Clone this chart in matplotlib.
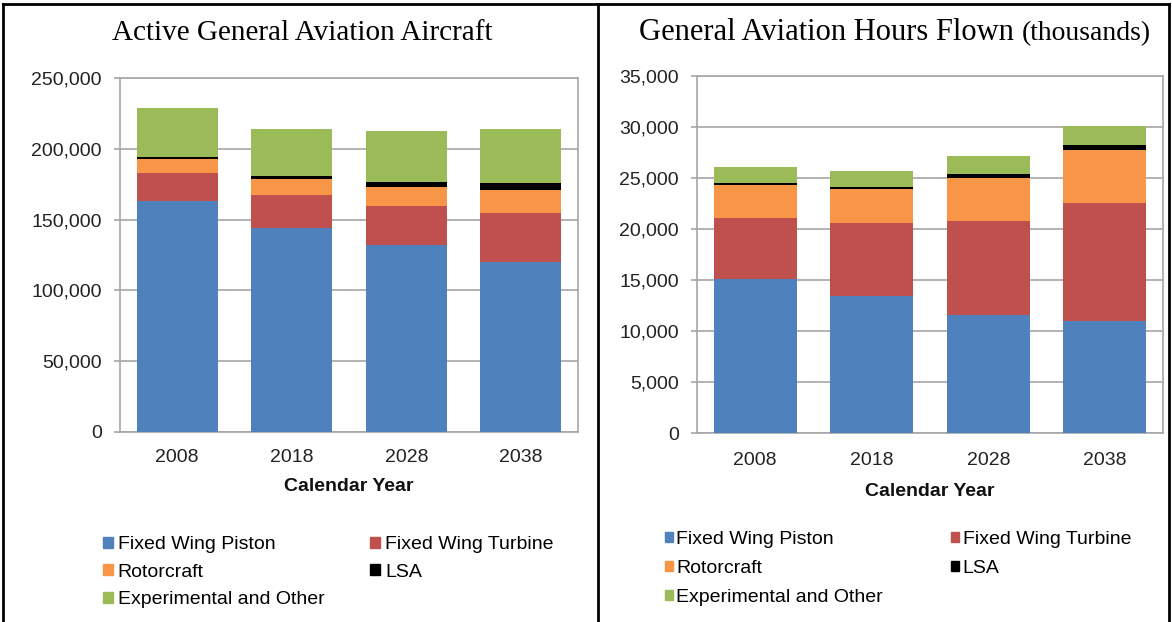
import matplotlib
matplotlib.use("Agg")
import matplotlib.pyplot as plt
from matplotlib.patches import Rectangle
from matplotlib.lines import Line2D
from matplotlib.ticker import StrMethodFormatter
import numpy as np

years = ["2008", "2018", "2028", "2038"]
series_names = ["Fixed Wing Piston", "Fixed Wing Turbine", "Rotorcraft", "LSA", "Experimental and Other"]
series_colors = ["#4F81BD", "#C0504D", "#F79646", "#000000", "#9BBB59"]

# active aircraft counts
aircraft_piston = [163000, 144000, 131900, 120300]
aircraft_turbine = [20000, 23300, 27500, 34600]
aircraft_rotor = [10000, 11300, 13400, 16000]
aircraft_lsa = [1400, 2100, 3700, 5000]
aircraft_other = [34400, 33200, 35800, 38100]

# hours flown (thousands)
hours_piston = [15070, 13430, 11600, 11000]
hours_turbine = [6010, 7190, 9150, 11550]
hours_rotor = [3260, 3300, 4280, 5170]
hours_lsa = [170, 230, 330, 480]
hours_other = [1540, 1510, 1770, 1900]

W, H = 1172, 622
plt.rcParams['font.family'] = ['Liberation Sans', 'DejaVu Sans']

fig = plt.figure(figsize=(W / 100, H / 100), dpi=100)

ax1 = fig.add_axes([120/W, 1-432/H, 458/W, 354/H])
ax2 = fig.add_axes([697/W, 1-433/H, 466/W, 357/H])


def stacked(ax, parts, ymax, step, xpad, lpad):
    x = np.arange(len(years))
    bottom = np.zeros(len(years))
    for vals, col in zip(parts, series_colors):
        ax.bar(x, vals, width=0.71, bottom=bottom, color=col, zorder=3)
        bottom += np.array(vals)
    ax.set_xlim(-0.5, len(years) - 0.5)
    ax.set_ylim(0, ymax)
    ax.set_yticks(np.arange(0, ymax + 1, step))
    ax.yaxis.set_major_formatter(StrMethodFormatter('{x:,.0f}'))
    ax.set_xticks(x)
    ax.set_xticklabels(years)
    ax.grid(axis='y', color='#A6A6A6', linewidth=1.2, zorder=0)
    for s in ax.spines.values():
        s.set_color('#A6A6A6')
        s.set_linewidth(1.2)
    ax.tick_params(axis='y', length=4, color='#A6A6A6', width=1.2, pad=9,
                   labelsize=14, labelcolor='#222222')
    ax.tick_params(axis='x', length=0, pad=xpad, labelsize=14, labelcolor='#222222')
    ax.set_xlabel("Calendar Year", fontsize=14, fontweight='bold', labelpad=lpad, color='#111111')


stacked(ax1, [aircraft_piston, aircraft_turbine, aircraft_rotor, aircraft_lsa, aircraft_other],
        250000, 50000, 12, 9)
stacked(ax2, [hours_piston, hours_turbine, hours_rotor, hours_lsa, hours_other],
        35000, 5000, 14, 10)

# legends: row-major order with two columns
order = [0, 2, 4, 1, 3]
labels = [series_names[i] for i in order]
legend_spots = [
    # axes, left px, top px, column spacing, square size, text gap, row spacing
    (ax1, 103, 536, 2.35, 0.5, 0.26, 0.55),
    (ax2, 665, 531, 3.5, 0.42, 0.17, 0.62),
]
for ax, x0, y0, cs, sq, tp, ls in legend_spots:
    handles = [Rectangle((0, 0), 1, 1, color=series_colors[i]) for i in order]
    ax.legend(handles, labels, ncol=2, loc='upper left', bbox_to_anchor=(x0/W, 1-y0/H),
              bbox_transform=fig.transFigure, frameon=False, fontsize=14,
              handlelength=sq, handleheight=sq, handletextpad=tp,
              labelspacing=ls, columnspacing=cs, borderaxespad=0, borderpad=0)

# titles
serif = ['Liberation Serif', 'DejaVu Serif']
fig.text(302/W, 1-40/H, "Active General Aviation Aircraft", ha='center', va='baseline',
         fontsize=21, family=serif)
t_main = fig.text(639/W, 1-40/H, "General Aviation Hours Flown ", ha='left', va='baseline',
                  fontsize=22, family=serif)
fig.canvas.draw()
bb = t_main.get_window_extent().transformed(fig.transFigure.inverted())
fig.text(bb.x1, 1-40/H, "(thousands)", ha='left', va='baseline', fontsize=20, family=serif)

# panel frame
frame_kw = dict(color='black', linewidth=2, transform=fig.transFigure)
top = 1 - 4/H
for xp in (3, 598, 1169):
    fig.add_artist(Line2D([xp/W, xp/W], [0, top], **frame_kw))
fig.add_artist(Line2D([3/W, 1169/W], [top, top], **frame_kw))

fig.savefig("out.png", dpi=100)
